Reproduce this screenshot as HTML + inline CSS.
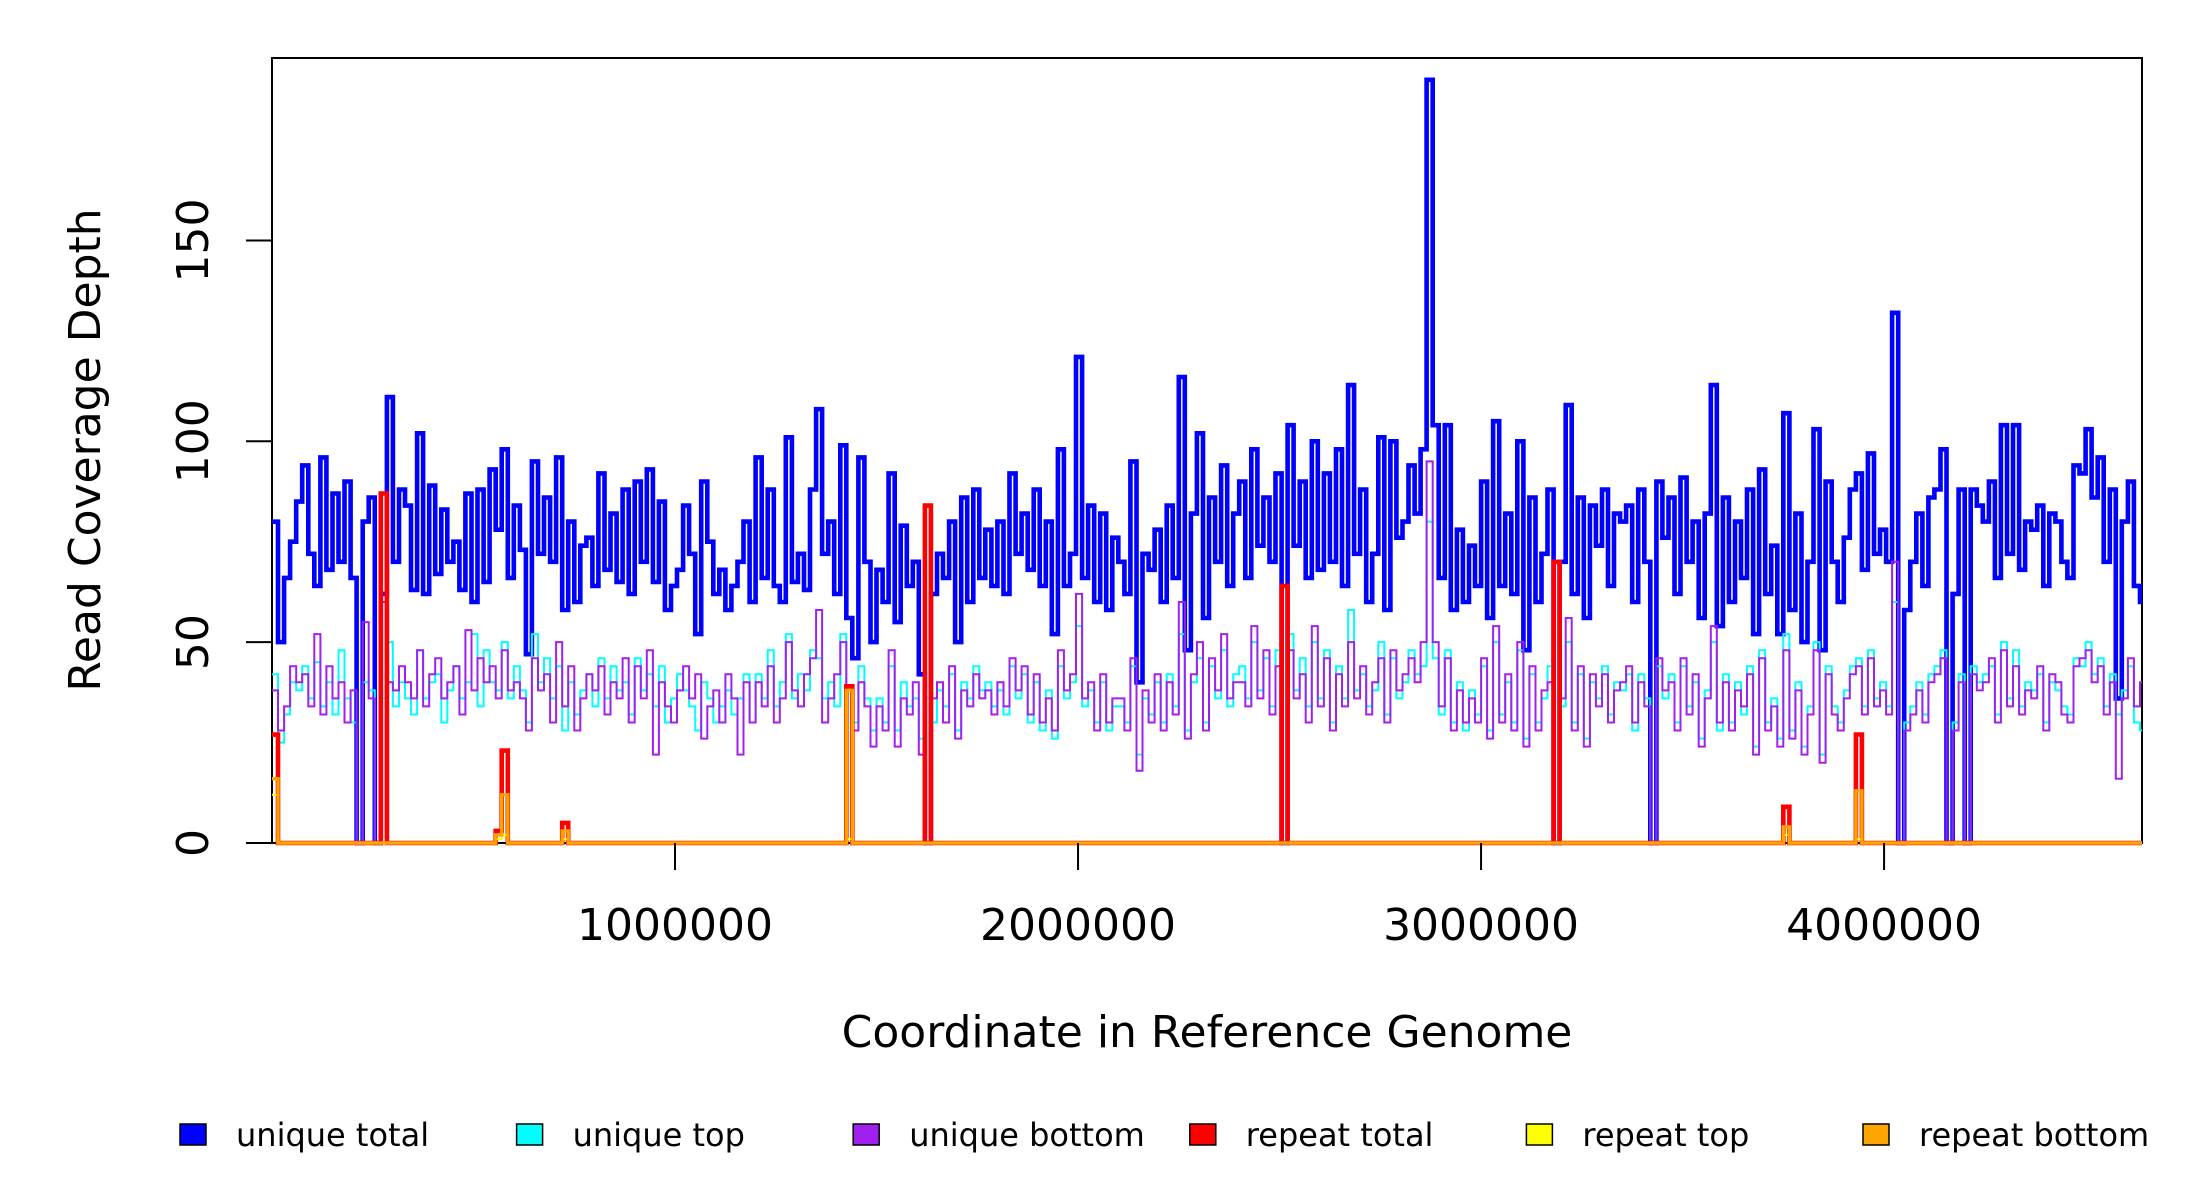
<!DOCTYPE html>
<html><head><meta charset="utf-8"><style>
html,body{margin:0;padding:0;background:#fff;}
svg{display:block;font-family:"DejaVu Sans","Liberation Sans",sans-serif;}
</style></head><body>
<svg id="chart" width="2200" height="1200" viewBox="0 0 2200 1200" xmlns="http://www.w3.org/2000/svg">
<defs><clipPath id="plotclip"><rect x="272" y="58" width="1870" height="789"/></clipPath></defs>
<rect x="272" y="58" width="1870" height="785" fill="none" stroke="#000" stroke-width="2"/>
<g id="series" clip-path="url(#plotclip)"></g>
<g id="axes"></g>
<text x="100" y="450" font-size="44" text-anchor="middle" transform="rotate(-90 100 450)">Read Coverage Depth</text>
<text x="1207" y="1047" font-size="44" text-anchor="middle">Coordinate in Reference Genome</text>
<g id="legend"></g>
</svg>
<script>
const binSize = 15000;
const xTicks = [1000000, 2000000, 3000000, 4000000];
const xTickLabels = ["1000000", "2000000", "3000000", "4000000"];
const yTicks = [0, 50, 100, 150];
const yTickLabels = ["0", "50", "100", "150"];
const uniqueTotal = [
80,50,66,75,85,94,72,64,96,68,87,70,90,66,0,80,86,0,62,111,
70,88,84,63,102,62,89,67,83,70,75,63,87,60,88,65,93,78,98,66,
84,73,47,95,72,86,70,96,58,80,60,74,76,64,92,68,82,65,88,62,
90,70,93,65,85,58,64,68,84,72,52,90,75,62,68,58,64,70,80,60,
96,66,88,64,60,101,65,72,63,88,108,72,80,62,99,56,46,96,70,50,
68,60,92,55,79,64,70,42,0,62,72,66,80,50,86,60,88,66,78,64,
80,62,92,72,82,68,88,64,80,52,98,64,72,121,66,84,60,82,58,76,
70,62,95,40,72,68,78,60,84,66,116,48,82,102,56,86,70,94,64,82,
90,66,98,74,86,70,92,0,104,74,90,66,100,68,92,70,98,64,114,72,
88,60,72,101,58,100,76,80,94,82,98,190,104,66,104,58,78,60,74,64,
90,56,105,64,82,62,100,48,86,60,72,88,0,70,109,62,86,56,84,74,
88,64,82,80,84,60,88,70,0,90,76,86,62,91,70,80,56,82,114,54,
86,60,80,66,88,52,93,62,74,52,107,58,82,50,70,103,48,90,70,60,
76,88,92,68,97,72,78,70,132,0,58,70,82,64,86,88,98,0,62,88,
0,88,84,80,90,66,104,72,104,68,80,78,84,64,82,80,70,66,94,92,
103,86,96,70,88,36,80,90,64,60];
const uniqueTop = [
42,25,32,40,38,44,36,45,34,40,32,48,36,30,0,40,38,0,36,50,
34,40,36,32,48,36,40,42,30,38,44,36,40,52,34,48,40,38,50,36,
44,38,30,52,40,46,36,44,28,40,32,38,42,34,46,36,44,38,40,32,
46,38,42,34,44,30,36,42,38,34,28,40,36,30,34,38,32,36,42,30,
42,36,48,34,40,52,36,42,38,48,46,36,40,34,52,38,30,44,36,28,
36,30,44,28,40,34,36,26,0,30,38,34,42,28,40,36,44,38,40,34,
38,32,44,36,42,30,40,28,38,26,44,36,40,54,34,38,30,40,28,34,
34,30,44,22,36,32,40,30,42,34,52,28,40,46,30,44,36,48,34,42,
44,36,50,38,46,34,48,0,52,38,46,34,50,36,48,30,44,36,58,38,
42,34,38,50,32,46,36,40,48,42,44,80,46,32,48,30,40,28,38,32,
44,28,50,32,40,30,48,26,42,30,36,44,0,34,50,30,42,26,40,36,
44,32,40,38,42,28,42,36,0,44,36,42,30,44,34,40,26,38,50,28,
42,30,40,32,44,24,48,30,36,26,52,28,40,24,34,50,22,44,34,30,
38,44,46,34,48,36,40,34,60,0,30,34,40,32,42,44,48,0,30,42,
0,44,40,42,44,32,50,36,48,34,40,38,42,30,40,38,34,32,46,44,
50,42,46,34,42,32,38,44,30,28];
const uniqueBottom = [
38,28,34,44,40,42,34,52,32,44,36,40,30,38,0,55,36,0,60,40,
38,44,40,36,48,34,42,46,36,40,44,32,53,38,46,40,44,36,48,38,
40,36,28,46,38,42,30,50,34,44,28,36,42,38,44,32,40,36,46,30,
44,36,48,22,40,34,30,38,44,36,42,26,34,38,30,42,36,22,40,30,
40,34,44,30,36,50,38,34,42,46,58,30,36,42,50,38,28,40,34,24,
34,28,48,24,36,32,40,22,0,36,40,30,44,26,38,34,42,36,38,32,
40,34,46,38,44,32,42,30,36,28,48,38,42,62,36,40,28,42,30,36,
36,28,46,18,38,30,42,28,40,32,60,26,42,50,28,46,38,52,36,40,
40,34,54,36,48,32,44,0,48,36,42,30,54,34,46,28,42,34,50,36,
44,32,40,46,30,48,38,42,46,40,50,95,50,34,46,28,38,30,36,30,
46,26,54,30,42,28,50,24,44,28,38,40,0,36,56,28,44,24,42,34,
42,30,38,40,44,30,40,34,0,46,38,40,28,46,32,42,24,36,54,30,
40,28,38,34,42,22,46,28,34,24,48,26,38,22,32,48,20,42,32,28,
36,42,44,32,46,34,38,32,70,0,28,32,38,30,40,42,46,0,28,40,
0,42,38,40,46,30,48,34,44,32,38,36,44,28,42,40,32,30,44,46,
48,40,44,32,40,16,36,46,34,40];
const repeatBins   = [0, 18, 37, 38, 48, 95, 108, 167, 212, 250, 262];
const repeatTotal  = [27, 87, 3, 23, 5, 39, 84, 64, 70, 9, 27];
const repeatTop    = [12, 0, 1, 2, 1, 1, 0, 0, 0, 2, 1];
const repeatBottom = [16, 0, 2, 12, 3, 38, 0, 0, 0, 4, 13];

const X0 = 272, X1 = 2142, XMAX = 4640000;
const Y0 = 843, PXU = 4.017;
function sx(v){ return X0 + v / XMAX * (X1 - X0); }
function sy(v){ return Y0 - v * PXU; }
const NS = "http://www.w3.org/2000/svg";
function mk(tag, attrs, parent){
  const e = document.createElementNS(NS, tag);
  for (const k in attrs) e.setAttribute(k, attrs[k]);
  parent.appendChild(e);
  return e;
}
function expand(bins, vals, n){
  const out = new Array(n).fill(0);
  bins.forEach((b, i) => { out[b] = vals[i]; });
  return out;
}
function stepPath(vals){
  let d = "M" + sx(0) + "," + sy(vals[0]);
  for (let i = 0; i < vals.length; i++){
    const xe = sx((i + 1) * binSize);
    d += " H" + xe.toFixed(1);
    if (i + 1 < vals.length) d += " V" + sy(vals[i + 1]).toFixed(1);
  }
  return d;
}
const n = uniqueTotal.length;
const seriesG = document.getElementById("series");
const seriesDefs = [
  {name: "unique-total-line", vals: uniqueTotal, color: "#0000ff", w: 4.6},
  {name: "unique-top-line", vals: uniqueTop, color: "#00ffff", w: 2},
  {name: "unique-bottom-line", vals: uniqueBottom, color: "#a020f0", w: 2},
  {name: "repeat-total-line", vals: expand(repeatBins, repeatTotal, n), color: "#ff0000", w: 4.6},
  {name: "repeat-top-line", vals: expand(repeatBins, repeatTop, n), color: "#ffff00", w: 2},
  {name: "repeat-bottom-line", vals: expand(repeatBins, repeatBottom, n), color: "#ffa500", w: 3.4}
];
seriesDefs.forEach(s => {
  const p = mk("path", {d: stepPath(s.vals), fill: "none", stroke: s.color, "stroke-width": s.w, "stroke-linejoin": "miter"}, seriesG);
  
  
});

const axes = document.getElementById("axes");
yTicks.forEach((v, i) => {
  const y = sy(v);
  const t = mk("line", {x1: 246, x2: 272, y1: y, y2: y, stroke: "#000", "stroke-width": 2}, axes);
  
  
  const lb = mk("text", {x: 208, y: y, "font-size": 44, "text-anchor": "middle", transform: "rotate(-90 208 " + y + ")"}, axes);
  lb.textContent = yTickLabels[i];
  
  
});
xTicks.forEach((v, i) => {
  const x = sx(v);
  const t = mk("line", {x1: x, x2: x, y1: 843, y2: 870, stroke: "#000", "stroke-width": 2}, axes);
  
  
  const lb = mk("text", {x: x, y: 940, "font-size": 44, "text-anchor": "middle"}, axes);
  lb.textContent = xTickLabels[i];
  
  
});

const legendNames = ["unique total", "unique top", "unique bottom", "repeat total", "repeat top", "repeat bottom"];
const legendColors = ["#0000ff", "#00ffff", "#a020f0", "#ff0000", "#ffff00", "#ffa500"];
const legG = document.getElementById("legend");
legendNames.forEach((nm, i) => {
  const bx = 180 + i * 336.6;
  const r = mk("rect", {x: bx, y: 1124, width: 26, height: 21, fill: legendColors[i], stroke: "#000", "stroke-width": 1.5}, legG);
  
  
  const t = mk("text", {x: bx + 56, y: 1146, "font-size": 32}, legG);
  t.textContent = nm;
  
  
});
</script>
</body></html>
